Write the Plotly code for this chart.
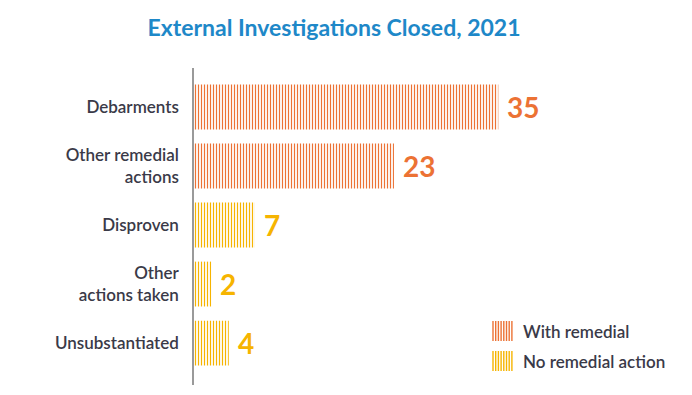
import plotly.graph_objects as go

categories = ["Debarments", "Other remedial<br>actions", "Disproven", "Other<br>actions taken", "Unsubstantiated"]
with_remedial_cats = ["Debarments", "Other remedial<br>actions"]
with_remedial_vals = [35, 23]
no_remedial_cats = ["Disproven", "Other<br>actions taken", "Unsubstantiated"]
no_remedial_vals = [7, 2, 4]
legend_names = ["With remedial", "No remedial action"]

ORANGE = "#EC7234"
YELLOW = "#F6B400"
TEXT = "#3A3A48"
FONT = "Lato"

OFF = 8  # page body margin offset
W, H = 692, 395
ML, MR, MT, MB = 194 - OFF, 12 + OFF, 68 - OFF, 10 + OFF
PW, PH = W - ML - MR, H - MT - MB

fig = go.Figure()
series = [
    (with_remedial_cats, with_remedial_vals, legend_names[0], ORANGE),
    (no_remedial_cats, no_remedial_vals, legend_names[1], YELLOW),
]
for cats, vals, name, col in series:
    fig.add_trace(go.Bar(
        y=cats, x=vals, orientation="h", name=name,
        marker=dict(color="white", line=dict(width=0),
                    pattern=dict(shape="|", fgcolor=col, bgcolor="white", fgopacity=1,
                                 size=3, solidity=0.4, fillmode="replace")),
        showlegend=False, hoverinfo="x+y",
    ))
    for c, v in zip(cats, vals):
        fig.add_annotation(x=v, y=c, xref="x", yref="y", text=f"<b>{v}</b>", showarrow=False,
                           xanchor="left", yanchor="middle", xshift=7,
                           font=dict(family=FONT, size=28, color=col, weight=900))

# legend drawn manually (larger striped swatches); positions in page pixels
def px_x(px):
    return (px - OFF - ML) / PW

def px_y(py):
    return (H - MB - (py - OFF)) / PH

legend_rows = [(321, ORANGE), (351, YELLOW)]
for (top, col), name in zip(legend_rows, legend_names):
    for i in range(8):
        xp = 493 + i * 2.7
        fig.add_shape(type="line", xref="paper", yref="paper",
                      x0=px_x(xp), x1=px_x(xp), y0=px_y(top), y1=px_y(top + 20),
                      line=dict(color=col, width=1.4))
    fig.add_annotation(xref="paper", yref="paper", x=px_x(521), y=px_y(top + 10), text=name,
                       showarrow=False, xanchor="left", yanchor="middle",
                       font=dict(family=FONT, size=17, color=TEXT, weight=600))

fig.update_layout(
    width=W, height=H,
    margin=dict(l=ML, r=MR, t=MT, b=MB),
    paper_bgcolor="white", plot_bgcolor="white",
    barmode="overlay", bargap=0.24,
    title=dict(text="<b>External Investigations Closed, 2021</b>", x=(334 - OFF) / W, xanchor="center",
               y=1 - (28 - OFF) / H, yanchor="middle", xref="container", yref="container",
               font=dict(family=FONT, size=23, color="#1E88C8")),
    xaxis=dict(range=[0, 55.9], visible=False, showgrid=False, zeroline=False, automargin=False),
    yaxis=dict(categoryorder="array", categoryarray=categories, range=[4.71, -0.66], automargin=False,
               showline=True, linecolor="#9A9A9A", linewidth=1.5, ticks="", ticklabelstandoff=10,
               tickfont=dict(family=FONT, size=17, color=TEXT, weight=600), showgrid=False, zeroline=False),
    showlegend=False,
)

fig.write_html("out.html")
